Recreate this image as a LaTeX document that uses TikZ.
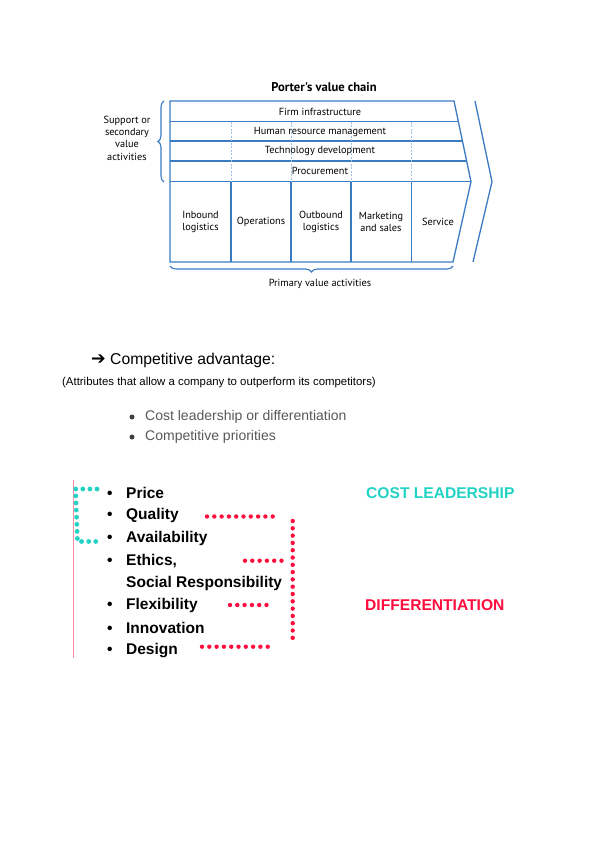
\documentclass[tikz,border=0pt]{standalone}
\usepackage{fontspec}
\usepackage{tikz}
\usetikzlibrary{positioning, decorations.pathreplacing, decorations.markings}
\setmainfont{Liberation Sans}
\newfontfamily\chainfont{PT Sans}
\newfontfamily\symfont{DejaVu Sans}
\definecolor{ChainBlue}{HTML}{3A7BC4}
\definecolor{DashBlue}{HTML}{9DBFE3}
\definecolor{CostCyan}{HTML}{22D3C5}
\definecolor{DiffRed}{HTML}{FF0D3D}
\definecolor{SoftGrey}{HTML}{595959}
\definecolor{EdgePink}{HTML}{F78CA5}

\begin{document}
\begin{tikzpicture}[x=1pt, y=-1pt,
  chain_line/.style={ChainBlue, line width=1.3pt},
  chain_dash/.style={DashBlue, line width=0.8pt, dash pattern=on 2pt off 1.5pt},
  chain_text/.style={font=\chainfont\fontsize{10.3}{12.3}\selectfont, align=center, inner sep=0pt},
  chain_brace/.style={ChainBlue, line width=1.1pt, decorate, decoration={brace, amplitude=6pt}},
  prio_item/.style={anchor=west, inner sep=0pt, font=\fontsize{15.5}{16}\selectfont\bfseries},
  strat_label/.style={anchor=west, inner sep=0pt, font=\fontsize{15.6}{16}\selectfont\bfseries},
  cyan_dots/.style={decorate, decoration={markings,
    mark=between positions 0 and 1 step 7.1pt with {\fill[CostCyan] (0,0) circle (2.4pt);}}},
  red_dots/.style={decorate, decoration={markings,
    mark=between positions 0 and 1 step 7.3pt with {\fill[DiffRed] (0,0) circle (2.2pt);}}}
]
\useasboundingbox[fill=white] (0,0) rectangle (600,848);

% Porter's value chain
\node[chain_text, font=\chainfont\fontsize{12.6}{14}\selectfont\bfseries] (title) at (324,87) {Porter's value chain};

\draw[chain_line] (170,101) -- (454,101) -- (471,181.7) -- (453,262) -- (170,262) -- cycle;
\draw[chain_line] (475,101) -- (492,181.7) -- (473,262);
\draw[chain_line] (170,121.7) -- (458.4,121.7);
\draw[chain_line] (170,141) -- (462.4,141);
\draw[chain_line] (170,161) -- (466.6,161);
\draw[chain_line] (170,181.7) -- (471,181.7);
\foreach \cx in {231,291,351,411.7} {
  \draw[chain_dash] (\cx,121.7) -- (\cx,181.7);
  \draw[chain_line] (\cx,181.7) -- (\cx,262);
}

\node[chain_text] (firm) at (320,111.5) {Firm infrastructure};
\node[chain_text] (hrm) at (320,131.5) {Human resource management};
\node[chain_text] (tech) at (320,151) {Technology development};
\node[chain_text] (proc) at (320,171) {Procurement};

\node[chain_text] (inbound) at (200.5,221.7) {Inbound\\logistics};
\node[chain_text] (ops) at (261,221.7) {Operations};
\node[chain_text] (outbound) at (321,221.7) {Outbound\\logistics};
\node[chain_text] (marketing) at (381,221.7) {Marketing\\and sales};
\node[chain_text] (service) at (438,221.7) {Service};

\draw[chain_brace] (164,182) -- (164,101);
\node[chain_text] (support) at (127,138) {Support or\\secondary\\value\\activities};
\draw[chain_brace] (453,266) -- (170,266);
\node[chain_text] (primary) at (320,284) {Primary value activities};

% Competitive advantage
\node[anchor=west, inner sep=0pt, font=\symfont\fontsize{17.5}{18}\selectfont] (arrow) at (91,360) {➔};
\node[anchor=west, inner sep=0pt, font=\fontsize{15.7}{17}\selectfont] (advantage) at (110,360) {Competitive advantage:};
\node[anchor=west, inner sep=0pt, font=\fontsize{11.4}{13}\selectfont] (attributes) at (62,383) {(Attributes that allow a company to outperform its competitors)};
\node[anchor=west, inner sep=0pt, text=SoftGrey, font=\fontsize{14}{16}\selectfont] (cost) at (145,416.7) {Cost leadership or differentiation};
\node[anchor=west, inner sep=0pt, text=SoftGrey, font=\fontsize{14}{16}\selectfont] (priorities) at (145,436.7) {Competitive priorities};
\fill[black!75] (132,417) circle (2.5pt) (132,437) circle (2.5pt);

% Competitive priorities
\coordinate (pink_top) at (73.3,480);
\coordinate (pink_bot) at (73.3,658);
\draw[EdgePink, line width=1.2pt, dash pattern=on 1.5pt off 0.5pt] (pink_top) -- (pink_bot);
\node[prio_item] (price) at (107,492.7) {\makebox[19pt][l]{•}Price};
\node[prio_item] (quality) at (107,515.3) {\makebox[19pt][l]{•}Quality};
\node[prio_item] (avail) at (107,538) {\makebox[19pt][l]{•}Availability};
\node[prio_item] (ethics) at (107,560.7) {\makebox[19pt][l]{•}Ethics,};
\node[prio_item] (social) at (126,583.3) {Social Responsibility};
\node[prio_item] (flex) at (107,605.7) {\makebox[19pt][l]{•}Flexibility};
\node[prio_item] (innov) at (107,628.3) {\makebox[19pt][l]{•}Innovation};
\node[prio_item] (design) at (107,651) {\makebox[19pt][l]{•}Design};

\node[strat_label, text=CostCyan] (costlead) at (366,492.7) {COST LEADERSHIP};
\node[strat_label, text=DiffRed] (diff) at (365,605.3) {DIFFERENTIATION};

\coordinate (c_top) at (97,489);
\coordinate (c_topl) at (75.5,489);
\coordinate (c_botl) at (77.5,541.5);
\coordinate (c_bot) at (99,541.5);
\path[cyan_dots] (c_top) -- (c_topl) -- (c_botl) -- (c_bot);

\coordinate (r_qual_a) at (207,516.5);
\coordinate (r_qual_b) at (273,516.5);
\coordinate (r_top) at (292.7,521);
\coordinate (r_bot) at (292.7,643);
\coordinate (r_eth_a) at (245,560.7);
\coordinate (r_eth_b) at (283,560.7);
\coordinate (r_flex_a) at (230,605);
\coordinate (r_flex_b) at (270,605);
\coordinate (r_des_a) at (202,646.7);
\coordinate (r_des_b) at (270,646.7);
\path[red_dots] (r_qual_a) -- (r_qual_b);
\path[red_dots] (r_top) -- (r_bot);
\path[red_dots] (r_eth_a) -- (r_eth_b);
\path[red_dots] (r_flex_a) -- (r_flex_b);
\path[red_dots] (r_des_a) -- (r_des_b);

\end{tikzpicture}
\end{document}
